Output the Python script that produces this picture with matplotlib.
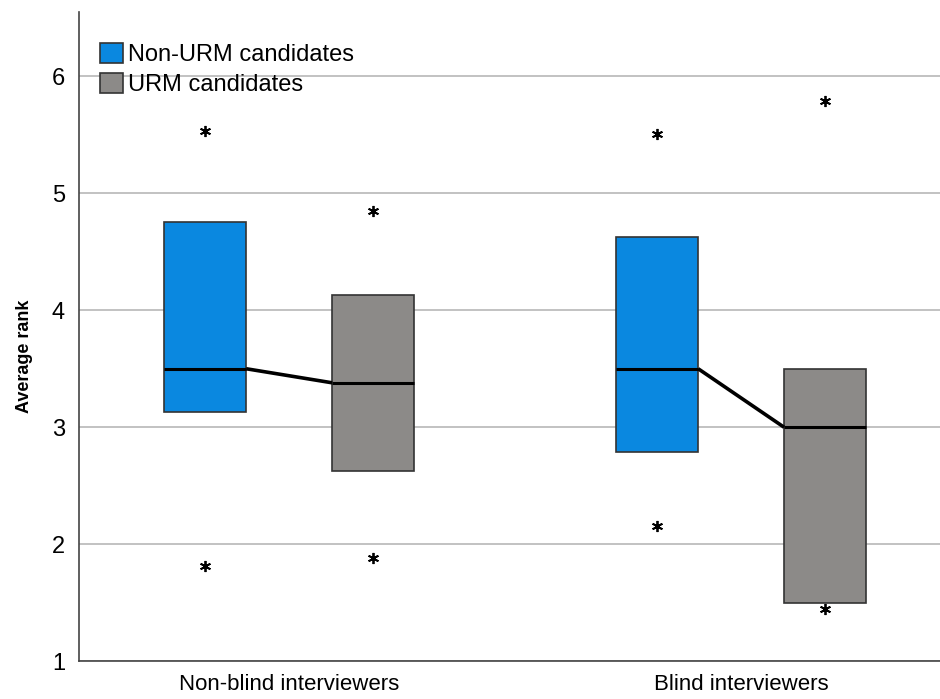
import numpy as np
import matplotlib.pyplot as plt
from matplotlib.patches import Patch

plt.rcParams['font.family'] = ['Liberation Sans', 'DejaVu Sans']

# Данные
groups = ['Non-blind interviewers', 'Blind interviewers']
series = ['Non-URM candidates', 'URM candidates']
colors = ['#0a88e0', '#8c8a88']

q1 = [[3.13, 2.63], [2.79, 1.50]]
q3 = [[4.75, 4.13], [4.63, 3.50]]
med = [[3.50, 3.38], [3.50, 3.00]]
outliers = [[[5.53, 1.81], [4.85, 1.88]],
            [[5.51, 2.16], [5.79, 1.45]]]

offset = 0.186
width = 0.182

fig = plt.figure(figsize=(9.4, 6.99), dpi=100)
ax = fig.add_axes([0.084, 0.054, 0.916, 0.929])

for gi in range(len(groups)):
    for si in range(len(series)):
        pos = gi + (si - 0.5) * 2 * offset
        stats = [dict(med=med[gi][si], q1=q1[gi][si], q3=q3[gi][si],
                      whislo=q1[gi][si], whishi=q3[gi][si],
                      fliers=outliers[gi][si])]
        ax.bxp(stats, positions=[pos], widths=width, patch_artist=True,
               showcaps=False, manage_ticks=False,
               boxprops=dict(facecolor=colors[si], edgecolor='#333333', linewidth=1.2),
               medianprops=dict(color='black', linewidth=2.2),
               whiskerprops=dict(linewidth=0),
               flierprops=dict(marker=(6, 2, 0), markersize=8, markeredgewidth=1.3,
                               markeredgecolor='black', linestyle='none'))
    # линия между медианами
    x_left = gi - offset + width / 2
    x_right = gi + offset - width / 2
    ax.plot([x_left, x_right], [med[gi][0], med[gi][1]], color='black',
            linewidth=2.6, solid_capstyle='butt', zorder=4)

ax.set_xlim(-0.465, 1.44)
ax.set_ylim(1, 6.55)
ax.set_xticks(range(len(groups)))
ax.set_xticklabels(groups, fontsize=16)
ax.set_yticks([1, 2, 3, 4, 5, 6])
ax.tick_params(axis='y', labelsize=17, length=0, pad=10)
ax.tick_params(axis='x', length=0, pad=9)
ax.set_ylabel('Average rank', fontsize=13, fontweight='bold')
ax.yaxis.set_label_coords(-0.053, 0.47)

ax.yaxis.grid(True, color='#bdbdbd', linewidth=1.3)
ax.set_axisbelow(True)
for s in ['top', 'right']:
    ax.spines[s].set_visible(False)
for s in ['left', 'bottom']:
    ax.spines[s].set_color('#444444')
    ax.spines[s].set_linewidth(1.2)

handles = [Patch(facecolor=c, edgecolor='#333333', linewidth=1.2) for c in colors]
ax.legend(handles, series, loc='upper left', bbox_to_anchor=(0.025, 0.952),
          frameon=False, fontsize=17, handlelength=0.95, handleheight=0.95,
          handletextpad=0.2, labelspacing=0.28, borderaxespad=0, borderpad=0)

fig.savefig('out.png', dpi=100)
